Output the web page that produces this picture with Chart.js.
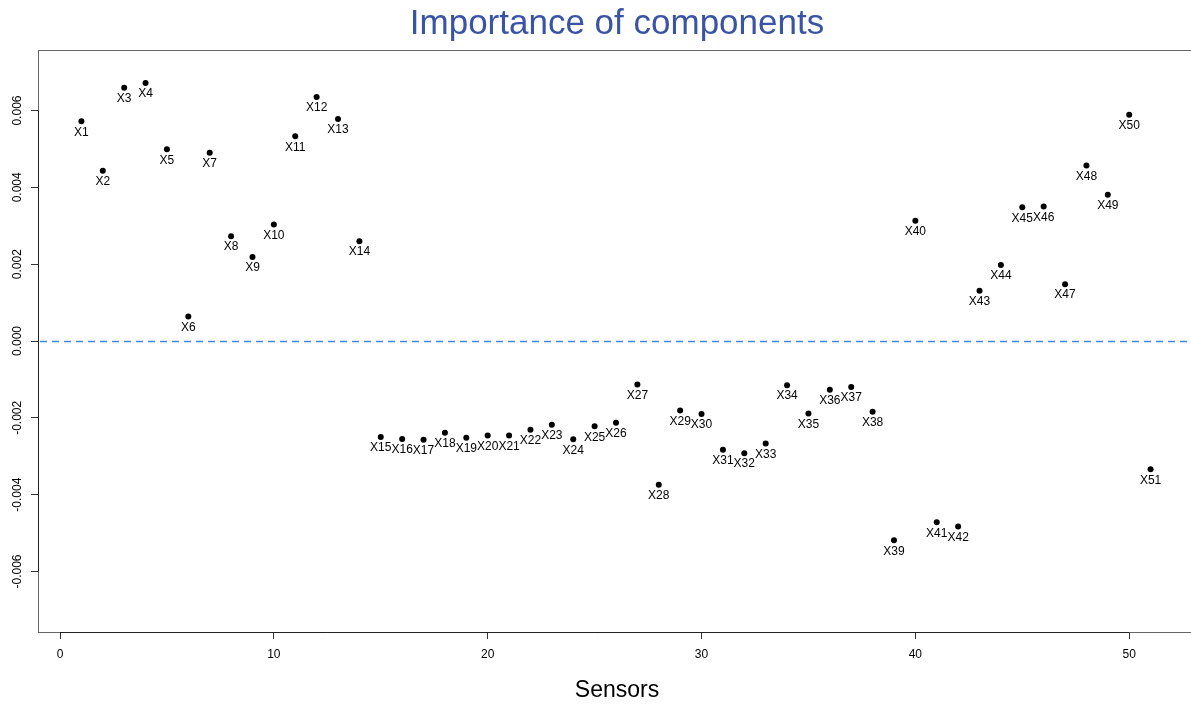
<!DOCTYPE html>
<html>
<head>
<meta charset="utf-8">
<title>Importance of components</title>
<script src="https://cdn.jsdelivr.net/npm/chart.js@4.4.1/dist/chart.umd.min.js"></script>
<style>
  html, body { margin: 0; padding: 0; background: #fff; }
  #wrap { width: 1191px; height: 704px; position: relative; }
</style>
</head>
<body>
<div id="wrap"><canvas id="importanceChart"></canvas></div>
<script>
// sensor names and their importance values
const sensors = [
  'X1', 'X2', 'X3', 'X4', 'X5', 'X6', 'X7', 'X8', 'X9', 'X10',
  'X11', 'X12', 'X13', 'X14', 'X15', 'X16', 'X17', 'X18', 'X19', 'X20',
  'X21', 'X22', 'X23', 'X24', 'X25', 'X26', 'X27', 'X28', 'X29', 'X30',
  'X31', 'X32', 'X33', 'X34', 'X35', 'X36', 'X37', 'X38', 'X39', 'X40',
  'X41', 'X42', 'X43', 'X44', 'X45', 'X46', 'X47', 'X48', 'X49', 'X50',
  'X51'
];
const importance = [
  0.00572, 0.00443, 0.00659, 0.00672, 0.00499, 0.00064, 0.00490, 0.00273, 0.00219, 0.00303,
  0.00533, 0.00635, 0.00578, 0.00260, -0.00250, -0.00255, -0.00257, -0.00239, -0.00252, -0.00246,
  -0.00246, -0.00231, -0.00218, -0.00256, -0.00222, -0.00213, -0.00113, -0.00374, -0.00181, -0.00190,
  -0.00283, -0.00292, -0.00267, -0.00115, -0.00189, -0.00127, -0.00120, -0.00184, -0.00519, 0.00313,
  -0.00472, -0.00483, 0.00131, 0.00198, 0.00348, 0.00350, 0.00148, 0.00457, 0.00381, 0.00589,
  -0.00334
];
const xTicks = [0, 10, 20, 30, 40, 50];
const yTicks = [-0.006, -0.004, -0.002, 0, 0.002, 0.004, 0.006];
const yTickLabels = ['-0.006', '-0.004', '-0.002', '0.000', '0.002', '0.004', '0.006'];
const referenceLevel = 0;

const FONT = '"Liberation Sans", Arial, Helvetica, sans-serif';

const points = importance.map((v, i) => ({ x: i + 1, y: v }));

// R-style decorations: box, axis lines, dashed reference line, labels
const rDecor = {
  id: 'rDecor',
  beforeDatasetsDraw(chart) {
    const { ctx, chartArea: a, scales: { x, y } } = chart;
    ctx.save();
    // plot box
    ctx.strokeStyle = '#666';
    ctx.lineWidth = 1;
    ctx.strokeRect(a.left + 0.5, a.top + 0.5, a.right - a.left + 10, a.bottom - a.top);
    // axis lines between first and last tick
    ctx.strokeStyle = '#222';
    ctx.beginPath();
    ctx.moveTo(x.getPixelForValue(xTicks[0]), a.bottom + 0.5);
    ctx.lineTo(x.getPixelForValue(xTicks[xTicks.length - 1]), a.bottom + 0.5);
    ctx.moveTo(a.left + 0.5, y.getPixelForValue(yTicks[0]));
    ctx.lineTo(a.left + 0.5, y.getPixelForValue(yTicks[yTicks.length - 1]));
    ctx.stroke();
    // dashed line at zero
    const py = Math.round(y.getPixelForValue(referenceLevel)) + 0.5;
    ctx.strokeStyle = '#4189d6';
    ctx.lineWidth = 1.4;
    ctx.setLineDash([7, 5]);
    ctx.beginPath();
    ctx.moveTo(a.left + 2, py);
    ctx.lineTo(a.right, py);
    ctx.stroke();
    ctx.restore();
  },
  afterDatasetsDraw(chart) {
    const { ctx } = chart;
    const meta = chart.getDatasetMeta(0);
    ctx.save();
    ctx.fillStyle = '#000';
    ctx.font = '12px ' + FONT;
    ctx.textAlign = 'center';
    ctx.textBaseline = 'middle';
    meta.data.forEach((pt, i) => {
      ctx.fillText(sensors[i], pt.x, pt.y + 11);
    });
    ctx.restore();
  },
  afterDraw(chart) {
    const { ctx, scales: { y } } = chart;
    ctx.save();
    // rotated y tick labels, like R's default las = 0
    ctx.fillStyle = '#000';
    ctx.font = '12px ' + FONT;
    ctx.textAlign = 'center';
    ctx.textBaseline = 'middle';
    yTicks.forEach((v, i) => {
      ctx.save();
      ctx.translate(18, y.getPixelForValue(v));
      ctx.rotate(-Math.PI / 2);
      ctx.fillText(yTickLabels[i], 0, 0);
      ctx.restore();
    });
    // titles centred on the plot region
    const cx = 617;
    ctx.fillStyle = '#3a54a5';
    ctx.font = '35px ' + FONT;
    ctx.fillText('Importance of components', cx, 24);
    ctx.fillStyle = '#000';
    ctx.font = '23px ' + FONT;
    ctx.fillText('Sensors', cx, 691);
    ctx.restore();
  }
};

new Chart(document.getElementById('importanceChart'), {
  type: 'scatter',
  data: {
    datasets: [{
      label: 'Importance',
      data: points,
      backgroundColor: '#000',
      borderWidth: 0,
      pointRadius: 3,
      pointHoverRadius: 3
    }]
  },
  options: {
    responsive: true,
    maintainAspectRatio: false,
    animation: false,
    devicePixelRatio: 1,
    layout: { padding: { top: 50, left: 0, right: 0, bottom: 0 } },
    plugins: {
      legend: { display: false },
      title: { display: false },
      tooltip: { enabled: false }
    },
    scales: {
      x: {
        type: 'linear',
        min: -1.03,
        max: 52.75,
        afterBuildTicks(scale) { scale.ticks = xTicks.map(v => ({ value: v })); },
        afterFit(scale) { scale.height = 72; },
        border: { display: false },
        grid: { drawOnChartArea: false, drawTicks: true, tickLength: 7, color: '#333' },
        ticks: {
          color: '#000',
          font: { family: FONT, size: 12 },
          padding: 8,
          maxRotation: 0,
          autoSkip: false
        }
      },
      y: {
        type: 'linear',
        min: -0.007576,
        max: 0.007576,
        afterBuildTicks(scale) { scale.ticks = yTicks.map(v => ({ value: v })); },
        afterFit(scale) { scale.width = 38; },
        border: { display: false },
        grid: { drawOnChartArea: false, drawTicks: true, tickLength: 7, color: '#333' },
        ticks: { display: false }
      }
    }
  },
  plugins: [rDecor]
});
</script>
</body>
</html>
